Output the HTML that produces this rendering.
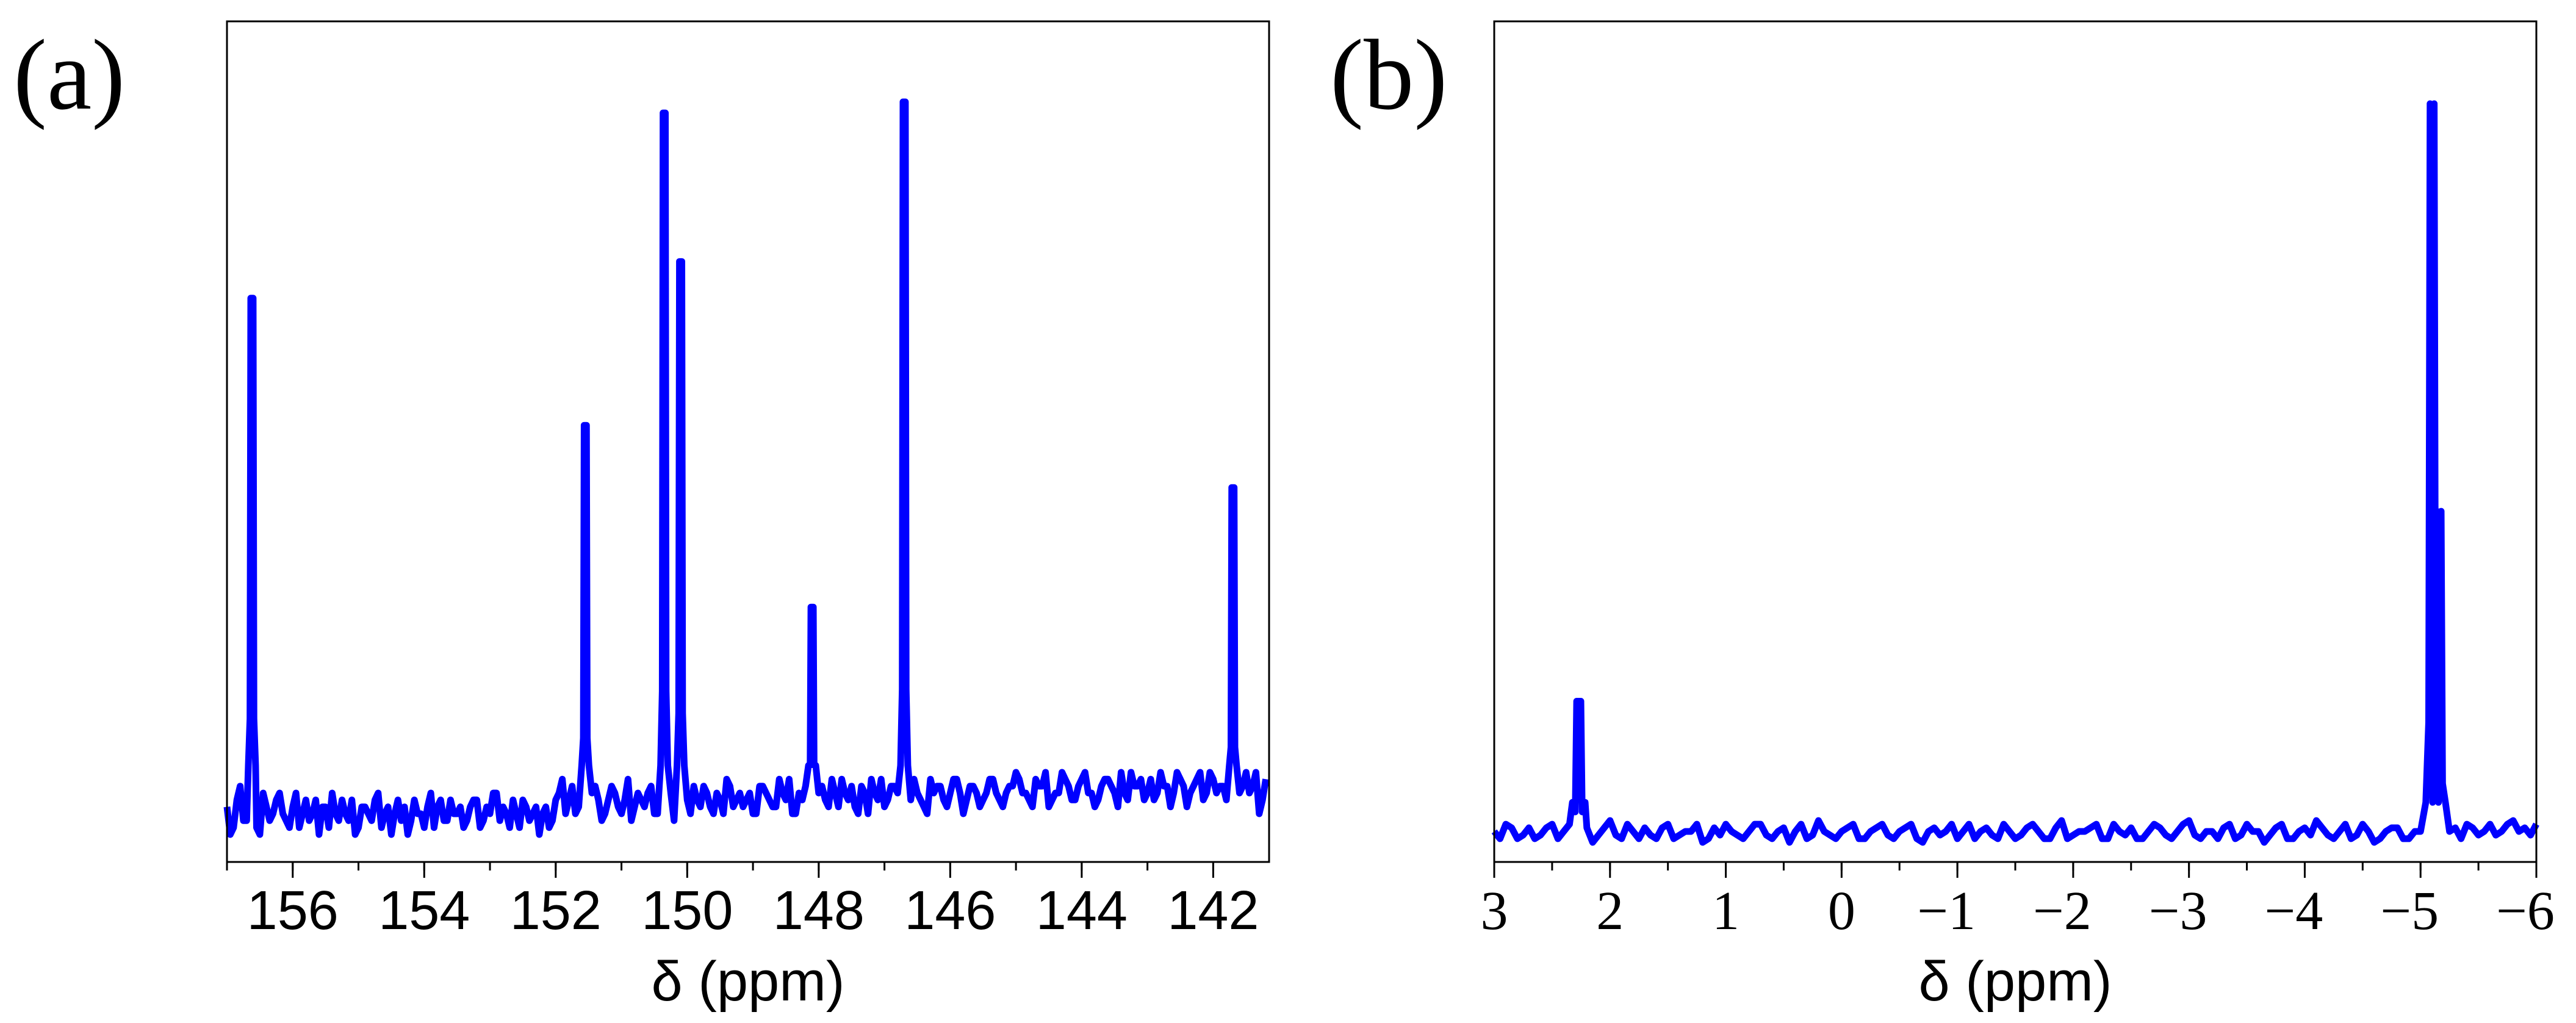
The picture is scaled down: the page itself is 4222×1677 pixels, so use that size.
<!DOCTYPE html>
<html><head><meta charset="utf-8"><style>
html,body{margin:0;padding:0;background:#fff;}
svg{display:block;}
</style></head><body>
<svg id="fig" width="4222" height="1677" viewBox="0 0 4222 1677" xmlns="http://www.w3.org/2000/svg">
<text x="22" y="178" font-family="Liberation Serif, serif" font-size="165">(a)</text>
<text x="2180" y="178" font-family="Liberation Serif, serif" font-size="165">(b)</text>
<g id="pa"></g>
<g id="pb"></g>
</svg>
<script>
// Panel (a) data
const aPeakPos = [156.62, 151.55, 150.35, 150.1, 148.1, 146.7, 141.7];
const aPeakHeight = [71.6, 53.2, 98.4, 76.9, 26.9, 100, 44.2];
const aNoiseStart = 157.0, aNoiseStep = -0.1;
const aNoise = [-2,-5,1,-4,-1,-6,-2,-3,0,-4,-2,-5,-1,-3,-6,-2,0,-4,-3,-1,-5,-2,-4,0,-3,-6,-1,-2,-4,-3,-5,0,-2,-4,-1,-3,-5,-2,-1,-4,-3,0,-2,-5,-3,-1,-4,-2,-3,-5,-1,
2,-1,-3,0,-2,1,-4,-1,0,-3,2,-2,-1,0,-3,1,-2,-4,0,-1,1,-2,0,-3,-1,2,-2,0,-1,-3,1,0,-2,2,-1,-3,0,1,-2,0,
-1,2,-2,0,1,-3,0,2,-1,-2,1,0,3,-1,0,-2,2,1,-1,0,2,-3,1,0,-1,2,0,-2,1,3,
0,-1,2,1,-2,0,3,1,-1,2,0,-2,1,2,0,3,-1,1,2,0,-1,3,1,0,2,-2,1,3,0,2,1,-1,2,0,3,1,-3,2,0,2];
const aNoise2Start = 156.95;
const aNoise2 = [-6,-1,-4,-2,-5,0,-4,-1,-3,-5,0,-3,-4,-1,-2,-5,-3,-1,-4,-6,-2,-3,-1,-5,-2,-3,-4,-6,-1,-3,-2,-5,-1,-4,-3,-2,-4,-1,-5,-2,0,-4,-3,-1,-5,-2,-3,-6,-2,-4,
0,-3,1,-2,-4,0,-1,-3,1,-2,-1,-4,0,-2,1,-3,-1,0,-2,1,-3,-1,1,-2,0,-3,1,-1,-2,0,-3,1,-1,-2,0,2,-3,-1,0,-2,
1,-2,0,2,-1,-2,1,-3,0,2,-1,1,-2,0,2,-1,-3,0,1,-2,2,0,-1,1,-2,0,2,-1,0,1,
2,0,-2,1,3,-1,0,2,-1,1,3,0,-1,2,1,-2,0,3,1,-1,2,0,1,-2,3,1,0,2,-1,3,0,1,-2,2,1,0,3,-1,2,1];
const aTicks = [156,154,152,150,148,146,144,142];
const aTickLabels = ["156","154","152","150","148","146","144","142"];
// Panel (b) data
const bPeakPos = [2.27, -5.1, -5.16];
const bPeakHeight = [17.9, 100, 44];
const bNoiseStart = 3.0, bNoiseStep = -0.1;
const bNoise = [0,1,-1,0.5,-0.5,1,0,-1,0.5,-0.5,1.5,-1,0,0.5,-1,1,-0.5,0,-1.5,0.5,
1,-0.5,0,1,-1,0.5,0,-1,1.5,-0.5,0,1,-1,0.5,-0.5,0,1,-1.5,0.5,0,
-1,1,0,-0.5,1,-1,0.5,0,-1,1.5,-0.5,0,1,-1,0,0.5,-1,1,-0.5,0,
1.5,-1,0,0.5,-1,1,0,-0.5,1,-1,0.5,1.5,-0.5,0,-1,1,-1.5,0,0.5,-1,
0,1,-0.5,0.5,1,-0.5,1,0,1.5,0.5,1];
const bNoise2Start = 2.95;
const bNoise2 = [-1,0.5,-0.5,-1,0.5,-1,1,0,-1.5,0.5,-0.5,1,-1,-0.5,0.5,-1,0,1,-1,-0.5,
0,-1,1,-0.5,0,-1.5,1,-0.5,0,-1,0.5,-1,0,1,-1,0.5,-1,0,-0.5,1,
0,-1,0.5,-1,0,-0.5,1,-1,0.5,-1,0,0.5,-1,1,-0.5,-1,0,0.5,-1,1,
-0.5,0,-1,1,-0.5,0,-1.5,0.5,-1,0,-0.5,0.5,-1,1,-0.5,0,-1,0.5,-1,0,
1,-0.5,0,-1,0.5,0,-0.5,1,0,-0.5];
const bTicks = [3,2,1,0,-1,-2,-3,-4,-5,-6];
const bTickLabels = ["3","2","1","0","\u22121","\u22122","\u22123","\u22124","\u22125","\u22126"];

const NS = "http://www.w3.org/2000/svg";
function mk(parent, tag, attrs){const e=document.createElementNS(NS,tag);for(const k in attrs)e.setAttribute(k,attrs[k]);parent.appendChild(e);return e;}

function drawPanel(g, cfg){
  const {x0,x1,y0,y1,xmin,xmax,base,k,peaksX,peaksH,nStart,nStep,noise,n2Start,noise2,ticks,labels,minorStep,font,prefix,sw} = cfg;
  const X = v => x0 + (xmin - v) / (xmin - xmax) * (x1 - x0);
  const Y = v => base - v * k;
  let pts = [];
  const addNoise=(arr,start)=>arr.forEach((n,i)=>{const p=start+i*nStep; let near=false; peaksX.forEach(px=>{if(Math.abs(px-p)<0.06)near=true;}); if(!near) pts.push([p,n]);});
  addNoise(noise,nStart); addNoise(noise2,n2Start);
  peaksX.forEach((p,i)=>{const h=peaksH[i];
    pts.push([p+0.055,4]);pts.push([p+0.03,h*0.15]);pts.push([p+0.018,h]);pts.push([p-0.018,h]);pts.push([p-0.03,h*0.15]);pts.push([p-0.055,4]);});
  pts.sort((a,b)=>b[0]-a[0]);
  pts = pts.filter(p=>p[0]<=xmin && p[0]>=xmax);
  const d = pts.map((p,i)=>(i?'L':'M')+X(p[0]).toFixed(1)+','+Y(p[1]).toFixed(1)).join('');
  const line = mk(g,'path',{d:d,fill:'none',stroke:'#0000ff','stroke-width':sw,'stroke-linejoin':'round'});
  
  
  const frame = mk(g,'rect',{x:x0,y:y0,width:x1-x0,height:y1-y0,fill:'none',stroke:'#000','stroke-width':3});
  
  
  for(let v=Math.ceil(Math.min(xmin,xmax)/minorStep)*minorStep; v<=Math.max(xmin,xmax)+1e-9; v+=minorStep){
    const t=mk(g,'line',{x1:X(v),x2:X(v),y1:y1,y2:y1+14,stroke:'#000','stroke-width':3});
    
    
  }
  ticks.forEach((v,i)=>{
    const t=mk(g,'line',{x1:X(v),x2:X(v),y1:y1,y2:y1+26,stroke:'#000','stroke-width':3});
    
    
    const tx=mk(g,'text',{x:X(v)+(labels[i].startsWith('\u2212')?-18:0),y:1523,'text-anchor':'middle','font-family':font,'font-size':90,fill:'#000'});
    tx.textContent=labels[i];
    
    
  });
  const at=mk(g,'text',{x:(x0+x1)/2,y:1640,'text-anchor':'middle','font-family':'Liberation Sans, sans-serif','font-size':92,fill:'#000'});
  at.textContent='\u03b4 (ppm)';
  
  
}
drawPanel(document.getElementById('pa'),{x0:372,x1:2080,y0:35,y1:1413,xmin:157,xmax:141.15,base:1300,k:11.33,
  peaksX:aPeakPos,peaksH:aPeakHeight,nStart:aNoiseStart,nStep:aNoiseStep,noise:aNoise,n2Start:aNoise2Start,noise2:aNoise2,ticks:aTicks,labels:aTickLabels,minorStep:1,
  font:'Liberation Sans, sans-serif',prefix:'panel-a',sw:11});
drawPanel(document.getElementById('pb'),{x0:2449,x1:4157,y0:35,y1:1413,xmin:3,xmax:-6,base:1363,k:11.93,
  peaksX:bPeakPos,peaksH:bPeakHeight,nStart:bNoiseStart,nStep:bNoiseStep,noise:bNoise,n2Start:bNoise2Start,noise2:bNoise2,ticks:bTicks,labels:bTickLabels,minorStep:0.5,
  font:'Liberation Serif, serif',prefix:'panel-b',sw:11});
</script>
</body></html>
